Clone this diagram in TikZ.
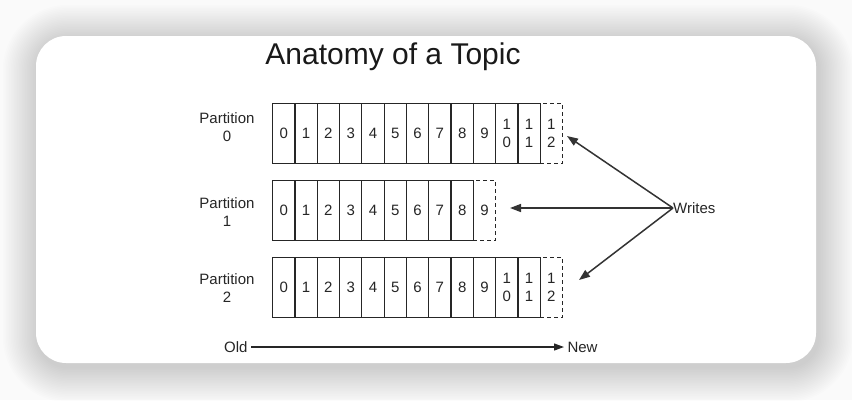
\documentclass[tikz,border=0pt]{standalone}
\usepackage{fontspec}
\setmainfont{Liberation Sans}
\usetikzlibrary{arrows.meta}
\begin{document}
\begin{tikzpicture}[x=1pt,y=-1pt,
  cell/.style={draw=black!85, line width=1.25pt, minimum width=22.3pt, minimum height=60pt, inner sep=0pt, anchor=north west, font=\fontsize{15}{18}\selectfont, align=center, text=black!85},
  dcell/.style={cell, dash pattern=on 4pt off 3pt},
  lbl/.style={font=\fontsize{15}{18}\selectfont, align=center, text=black!85},
  warrow/.style={line width=1.5pt, draw=black!80, -{Triangle[length=11pt,width=8pt]}}
]
\useasboundingbox (0,0) rectangle (852,400);
\fill[black!2] (0,0) rectangle (852,400);
\foreach \i in {1,...,22}{
  \pgfmathsetmacro\rr{30+1.6*\i}
  \pgfmathsetmacro\dd{1.6*\i}
  \fill[black, opacity=0.0075, rounded corners=\rr pt] ({36-\dd+2},{36-\dd+4}) rectangle ({816+\dd+2},{363+\dd+4});
}
\fill[white, rounded corners=30pt] (36,36) rectangle (816,363);

\node[font=\fontsize{30}{36}\selectfont, text=black!90] (title) at (393,57) {Anatomy of a Topic};

% Partition 0
\foreach \k/\t in {0/0,1/1,2/2,3/3,4/4,5/5,6/6,7/7,8/8,9/9,10/{1\\0},11/{1\\1}}
  \node[cell] (a\k) at ({272+22.3*\k},103) {\t};
\node[dcell] (a12) at ({272+22.3*12},103) {1\\2};
% Partition 1
\foreach \k/\t in {0/0,1/1,2/2,3/3,4/4,5/5,6/6,7/7,8/8}
  \node[cell] (b\k) at ({272+22.3*\k},180) {\t};
\node[dcell] (b9) at ({272+22.3*9},180) {9};
% Partition 2
\foreach \k/\t in {0/0,1/1,2/2,3/3,4/4,5/5,6/6,7/7,8/8,9/9,10/{1\\0},11/{1\\1}}
  \node[cell] (c\k) at ({272+22.3*\k},257) {\t};
\node[dcell] (c12) at ({272+22.3*12},257) {1\\2};

\node[lbl] (p0) at (227,127) {Partition\\0};
\node[lbl] (p1) at (227,212) {Partition\\1};
\node[lbl] (p2) at (227,288) {Partition\\2};

\node[lbl, anchor=west, inner sep=0pt] (w) at (673,208) {Writes};
\coordinate (t0) at (567,136);
\coordinate (t1) at (510,208);
\coordinate (t2) at (579,280);
\draw[warrow] (w.west) -- (t0);
\draw[warrow] (w.west) -- (t1);
\draw[warrow] (w.west) -- (t2);

\node[lbl, anchor=east] (old) at (251,347) {Old};
\node[lbl, anchor=west] (new) at (564,347) {New};
\draw[line width=1.2pt, draw=black!85, -{Triangle[length=10pt,width=7pt]}] (old.east) -- (new.west);
\end{tikzpicture}
\end{document}
